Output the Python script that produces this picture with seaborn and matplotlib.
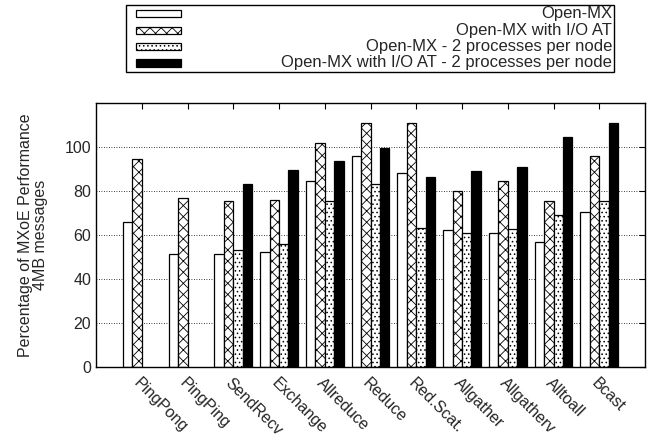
import numpy as np
import pandas as pd
import matplotlib
matplotlib.use("Agg")
import matplotlib.pyplot as plt
from matplotlib.patches import Rectangle
import seaborn as sns

# categories and series
benchmarks = ["PingPong", "PingPing", "SendRecv", "Exchange", "Allreduce", "Reduce",
              "Red.Scat.", "Allgather", "Allgatherv", "Alltoall", "Bcast"]
series = ["Open-MX", "Open-MX with I/O AT",
          "Open-MX - 2 processes per node", "Open-MX with I/O AT - 2 processes per node"]
open_mx = [65.8, 51.2, 51.2, 52.1, 84.7, 95.9, 88.3, 62.1, 61.1, 56.7, 70.3]
open_mx_ioat = [94.7, 76.7, 75.6, 76.1, 101.7, 111.0, 110.8, 80.0, 84.4, 75.6, 95.9]
open_mx_2ppn = [np.nan, np.nan, 53.3, 55.8, 75.3, 83.3, 63.0, 61.1, 62.7, 69.0, 75.3]
open_mx_ioat_2ppn = [np.nan, np.nan, 83.0, 89.4, 93.6, 99.5, 86.4, 89.2, 90.9, 104.4, 110.8]
y_ticks = [0, 20, 40, 60, 80, 100]

rows = []
for name, vals in zip(series, [open_mx, open_mx_ioat, open_mx_2ppn, open_mx_ioat_2ppn]):
    for b, v in zip(benchmarks, vals):
        rows.append({"bench": b, "serie": name, "value": v})
df = pd.DataFrame(rows).dropna()

sns.set_theme(style="white")
plt.rcParams["font.family"] = ["Liberation Sans", "DejaVu Sans"]
plt.rcParams["hatch.linewidth"] = 0.6

W, H = 649, 441
fig = plt.figure(figsize=(W / 100, H / 100), dpi=100)
ax = fig.add_axes([96 / W, 1 - 367 / H, 549 / W, 264 / H])

sns.barplot(data=df, x="bench", y="value", hue="serie", order=benchmarks,
            hue_order=series, errorbar=None, width=0.82, ax=ax, legend=False)

styles = [("white", ""), ("white", "xxx"), ("white", "...."), ("black", "")]
for cont, (fc, hatch) in zip(ax.containers, styles):
    for p in cont:
        p.set_facecolor(fc)
        p.set_edgecolor("black")
        p.set_linewidth(0.9)
        p.set_hatch(hatch)

ax.set_xlim(-1, 11)
ax.set_ylim(0, 120)
ax.set_yticks(y_ticks)
ax.set_xlabel("")
ax.set_ylabel("Percentage of MXoE Performance\n4MB messages", fontsize=11.5,
              linespacing=0.95, labelpad=12)
for y in y_ticks[1:]:
    ax.axhline(y, color="black", lw=0.6, ls=(0, (1, 2)), zorder=0)
ax.tick_params(direction="in", length=4, width=0.8, top=True, right=True,
               labelsize=11.5, color="black")
ax.tick_params(axis="x", pad=6)
for lab in ax.get_xticklabels():
    lab.set_rotation(-45)
    lab.set_ha("left")
    lab.set_va("top")
    lab.set_rotation_mode("anchor")
for s in ax.spines.values():
    s.set_color("black")
    s.set_linewidth(1.0)

# legend box drawn by hand (gnuplot-style: samples left, text right aligned)
def fx(px):
    return px / W

def fy(py):
    return 1 - py / H

fig.patches.append(Rectangle((fx(126), fy(72)), fx(614) - fx(126), fy(5) - fy(72),
                             transform=fig.transFigure, fill=False, ec="black", lw=1.0))
row_y = [13.5, 30, 46.5, 63]
for (fc, hatch), name, ry in zip(styles, series, row_y):
    fig.patches.append(Rectangle((fx(136), fy(ry + 3.5)), fx(181) - fx(136), 7 / H,
                                 transform=fig.transFigure, fc=fc, ec="black",
                                 lw=0.9, hatch=hatch))
    fig.text(fx(612), fy(ry), name, ha="right", va="center", fontsize=12)

fig.savefig("out.png", dpi=100)
